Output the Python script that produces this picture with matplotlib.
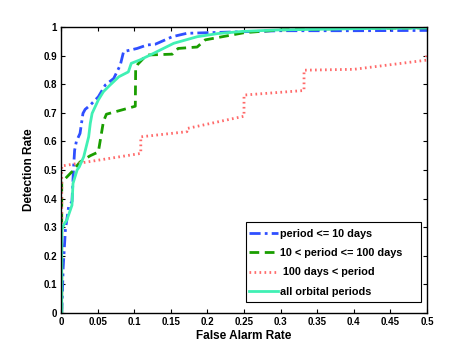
import matplotlib
matplotlib.use("Agg")
import matplotlib.pyplot as plt
from matplotlib.patches import Rectangle

plt.rcParams['font.family'] = ['Liberation Sans', 'DejaVu Sans']
plt.rcParams['font.weight'] = 'bold'

# period <= 10 days
short_far = [0, 0.001, 0.003, 0.006, 0.0104, 0.015, 0.017, 0.0186, 0.021, 0.026, 0.030, 0.033,
             0.040, 0.051, 0.0605, 0.072, 0.081, 0.0855, 0.104, 0.1175, 0.129, 0.152,
             0.172, 0.20, 0.227, 0.30, 0.40, 0.50]
short_det = [0, 0.0, 0.16, 0.29, 0.371, 0.39, 0.50, 0.569, 0.60, 0.628, 0.698, 0.712,
             0.727, 0.756, 0.797, 0.82, 0.867, 0.914, 0.925, 0.937, 0.94, 0.966,
             0.978, 0.98, 0.982, 0.987, 0.987, 0.988]

# 10 < period <= 100 days
mid_far = [0, 0.001, 0.001, 0.0036, 0.015, 0.026, 0.040, 0.051, 0.058, 0.062, 0.1015, 0.102,
           0.105, 0.117, 0.152, 0.160, 0.186, 0.197, 0.25, 0.30, 0.40, 0.50]
mid_det = [0, 0.0, 0.46, 0.464, 0.494, 0.528, 0.55, 0.563, 0.67, 0.695, 0.723, 0.855,
           0.87, 0.902, 0.905, 0.925, 0.93, 0.955, 0.98, 0.99, 0.995, 0.997]

# 100 days < period
long_far = [0, 0.001, 0.001, 0.109, 0.109, 0.172, 0.172, 0.25, 0.25, 0.332, 0.332, 0.40, 0.499, 0.499]
long_det = [0, 0.0, 0.514, 0.558, 0.616, 0.634, 0.645, 0.688, 0.762, 0.778, 0.849, 0.852, 0.884, 0.90]

# all orbital periods
all_far = [0, 0.001, 0.001, 0.004, 0.008, 0.015, 0.0164, 0.022, 0.025, 0.031, 0.0378, 0.040,
           0.0425, 0.051, 0.058, 0.067, 0.079, 0.092, 0.096, 0.108, 0.1265, 0.154,
           0.186, 0.214, 0.25, 0.30, 0.40, 0.50]
all_det = [0, 0.0, 0.29, 0.31, 0.325, 0.377, 0.453, 0.50, 0.511, 0.546, 0.616, 0.663,
           0.698, 0.745, 0.774, 0.797, 0.826, 0.843, 0.873, 0.885, 0.908, 0.943,
           0.966, 0.977, 0.985, 0.99, 0.994, 0.997]

labels = ['period <= 10 days', '10 < period <= 100 days', ' 100 days < period', 'all orbital periods']
xticks = [0, 0.05, 0.1, 0.15, 0.2, 0.25, 0.3, 0.35, 0.4, 0.45, 0.5]
yticks = [0, 0.1, 0.2, 0.3, 0.4, 0.5, 0.6, 0.7, 0.8, 0.9, 1]

W, H = 471, 351
fig = plt.figure(figsize=(W / 100, H / 100), dpi=100)
ax = fig.add_axes([61/W, 1 - 313/H, 366/W, 286/H])

ax.plot(short_far, short_det, color='#2f4fff', lw=2, linestyle=(0, (4, 1.5, 1, 1.5)), label=labels[0])
ax.plot(mid_far, mid_det, color='#1a9e00', lw=2, linestyle=(0, (3.5, 2)), label=labels[1])
ax.plot(long_far, long_det, color='#ff6a6a', lw=2, linestyle=(0, (0.6, 1.2)), label=labels[2])
ax.plot(all_far, all_det, color='#40f0b4', lw=2, linestyle='-', label=labels[3])

ax.set_xlim(0, 0.5)
ax.set_ylim(0, 1)
ax.set_xticks(xticks)
ax.set_yticks(yticks)
ax.set_xticklabels([('%g' % t) for t in xticks])
ax.set_yticklabels([('%g' % t) for t in yticks])
ax.tick_params(direction='in', top=True, right=True, length=3, width=0.8, labelsize=7, pad=3)
for s in ax.spines.values():
    s.set_linewidth(1.0)
ax.set_xlabel('False Alarm Rate', fontsize=8.5, fontweight='bold', labelpad=2)
ax.set_ylabel('Detection Rate', fontsize=8.5, fontweight='bold', labelpad=6)

# legend box (MATLAB style, extra padding on right)
box = Rectangle((246 / W, 1 - 302 / H), 175 / W, 80 / H, transform=fig.transFigure,
                facecolor='white', edgecolor='black', linewidth=0.8, zorder=4.5, clip_on=False)
ax.add_artist(box)
leg = ax.legend(loc='upper left', bbox_to_anchor=(249 / W, 1 - 229 / H), bbox_transform=fig.transFigure,
                fontsize=7.8, frameon=False, handlelength=2.7, handletextpad=0.2,
                labelspacing=0.85, borderpad=0, borderaxespad=0)
leg.set_zorder(6)

fig.savefig('out.png', dpi=100)
